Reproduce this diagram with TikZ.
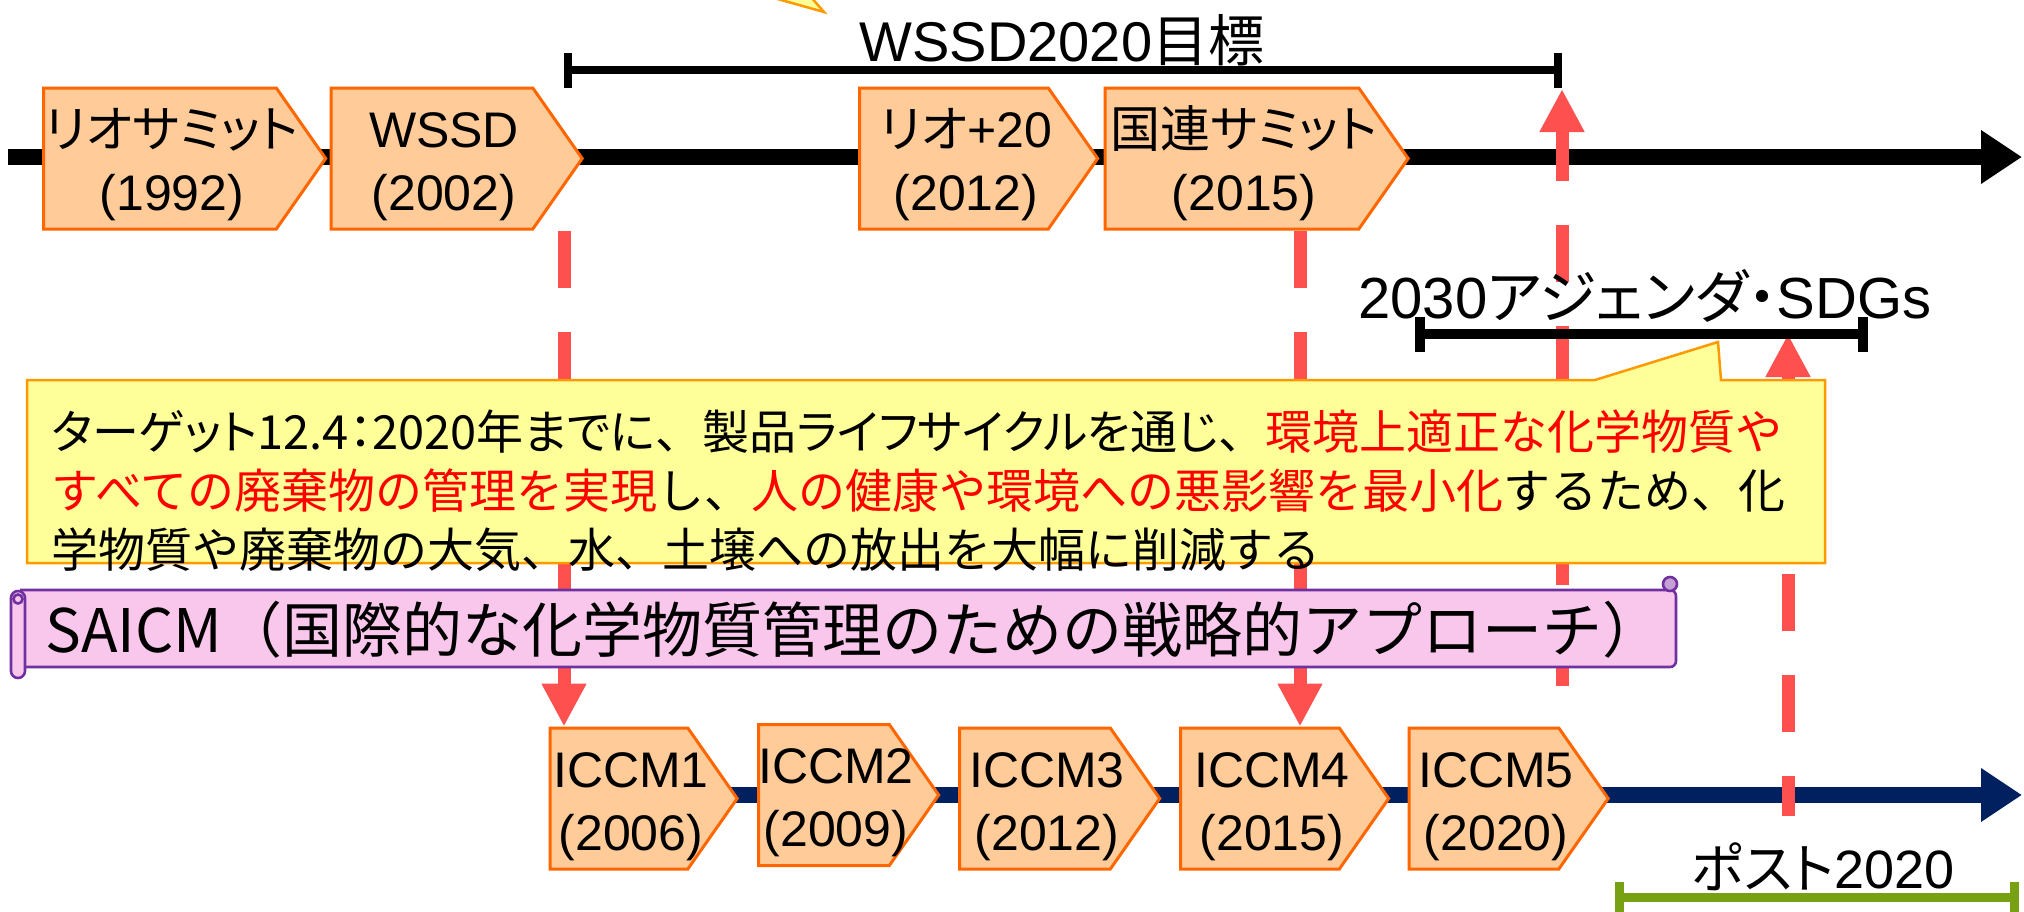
\documentclass[tikz,border=0pt]{standalone}
\usepackage{fontspec}
\setmainfont{Liberation Sans}
\newfontfamily\jp{Noto Sans CJK JP}
\newfontfamily\jpp[RawFeature=+palt]{Noto Sans CJK JP}
\usetikzlibrary{arrows.meta,shapes.symbols,calc}

\definecolor{boxfill}{RGB}{255,204,153}
\definecolor{boxline}{RGB}{255,102,0}
\definecolor{dashred}{RGB}{255,80,80}
\definecolor{navy}{RGB}{0,32,96}
\definecolor{notefill}{RGB}{255,255,153}
\definecolor{noteline}{RGB}{255,153,0}
\definecolor{scrollfill}{RGB}{249,198,236}
\definecolor{scrollline}{RGB}{112,48,160}
\definecolor{curlfill}{RGB}{196,160,214}
\definecolor{postgreen}{RGB}{119,160,18}
\definecolor{txtred}{RGB}{255,0,0}

\newcommand{\redtxt}[1]{\textcolor{txtred}{#1}}
% two lines, set on the centre of the box, a little to the right
\newcommand{\boxtext}[2]{%
  \makebox[0pt]{\hspace{12pt}\raisebox{5.75pt}[0pt][0pt]{#1}}%
  \makebox[0pt]{\hspace{12pt}\raisebox{-25.75pt}[0pt][0pt]{#2}}}

\begin{document}
\begin{tikzpicture}[x=0.5pt, y=-0.5pt,
    evt/.style={signal, signal to=east, signal pointer angle=110,
        draw=boxline, fill=boxfill, line width=1.5pt, inner sep=0pt,
        minimum height=70.5pt,
        font=\fontsize{25}{33}\selectfont},
    timeaxis/.style={line width=8pt, -{Triangle[length=20.5pt, width=25.5pt]}},
    spanbar/.style={line width=#1, {Bar[width=17.5pt]}-{Bar[width=17.5pt]}},
    redlink/.style={draw=dashred, line width=6.5pt,
        dash pattern=on 28.5pt off 22pt,
        -{Triangle[length=21.5pt, width=21pt]}},
    spantext/.style={inner sep=0pt, font=\fontsize{28}{34}\selectfont},
    notepen/.style={draw=noteline, fill=notefill, line width=1.25pt},
    scrollpen/.style={draw=scrollline, fill=scrollfill, line width=1.3pt}]

    \useasboundingbox (0,0) rectangle (2024,911);

    % pointer of a note above the picture
    \draw[notepen] (767,-4) -- (824,12) -- (810,-4);

    % Time axes
    \coordinate (topstart) at (8,157);
    \coordinate (topend) at (2022,157);
    \coordinate (botstart) at (700,795);
    \coordinate (botend) at (2022,795);
    \draw[timeaxis] (topstart) -- (topend);
    \draw[timeaxis, navy] (botstart) -- (botend);

    % Summits
    \node[evt, minimum width=141pt] (rio92) at (160,158.5) {\boxtext{\jpp リオサミット}{(1992)}};
    \node[evt, minimum width=125.5pt] (wssd) at (432,158.5) {\boxtext{WSSD}{(2002)}};
    \node[evt, minimum width=119pt] (rio20) at (954,158.5) {\boxtext{{\jpp リオ}+20}{(2012)}};
    \node[evt, minimum width=151.5pt] (kokuren) at (1232,158.5) {\boxtext{\jpp 国連サミット}{(2015)}};

    % ICCM sessions
    \node[evt, minimum width=93.5pt] (iccm1) at (619,798.5) {\boxtext{ICCM1}{(2006)}};
    \node[evt, minimum width=90pt] (iccm2) at (824,795) {\boxtext{ICCM2}{(2009)}};
    \node[evt, minimum width=100pt] (iccm3) at (1035,798.5) {\boxtext{ICCM3}{(2012)}};
    \node[evt, minimum width=104pt] (iccm4) at (1260,798.5) {\boxtext{ICCM4}{(2015)}};
    \node[evt, minimum width=99.5pt] (iccm5) at (1484,798.5) {\boxtext{ICCM5}{(2020)}};

    % Span ends
    \coordinate (wsdL) at (564,70);
    \coordinate (wsdR) at (1562,70);
    \coordinate (sdgL) at (1415,334);
    \coordinate (sdgR) at (1868,334);
    \coordinate (pstL) at (1615,897);
    \coordinate (pstR) at (2019,897);
    \coordinate (k15) at ($(kokuren.south)+(68,0)$);
    \coordinate (sdgfoot) at (1788,816);

    % Links between the two lines
    \draw[redlink] (wsdL |- wssd.south) -- (wsdL |- iccm1.north);
    \draw[redlink] (k15) -- (k15 |- iccm4.north);
    \draw[redlink, dash phase=30pt] (wsdR |- iccm5.north) -- ([yshift=-9.5pt]wsdR);
    \draw[redlink, dash phase=8.5pt] (sdgfoot) -- (sdgfoot |- sdgL);

    % Spans
    \draw[spanbar=4pt] (wsdL) -- (wsdR);
    \node[spantext] (wsdtext) at (1062,40) {WSSD2020{\jp 目標}};
    \draw[spanbar=5pt] (sdgL) -- (sdgR);
    \node[spantext, font=\fontsize{29}{34}\selectfont] (sdgtext) at (1645,296) {2030{\jpp アジェンダ・}SDGs};
    \draw[line width=4.5pt, postgreen, {Bar[width=15.5pt]}-{Bar[width=15.5pt]}] (pstL) -- (pstR);
    \node[spantext, font=\fontsize{27}{32}\selectfont] (psttext) at (1823,867) {{\jpp ポスト}2020};

    % Target 12.4 note
    \draw[notepen] (27,380) -- (1595,380) -- (1718,342) -- (1721,380) -- (1825,380)
        -- (1825,563) -- (27,563) -- cycle;
    \node[anchor=north west, inner sep=0pt, align=left,
        font=\jp\fontsize{23.5}{29.5}\selectfont] (target) at (51,409)
        {{\jpp ターゲット12.4：2020年までに}、{\jpp 製品ライフサイクルを通じ}、\redtxt{環境上適正な化学物質や}\\
         \redtxt{すべての廃棄物の管理を実現}し、\redtxt{人の健康や環境への悪影響を最小化}するため、化\\
         学物質や廃棄物の大気、水、土壌への放出を大幅に削減する};

    % SAICM scroll
    \draw[scrollpen, rounded corners=3pt] (20,590) -- (1676,590) -- (1676,667) -- (20,667);
    \draw[scrollpen, rounded corners=3.5pt] (11,591) rectangle (25,678);
    \draw[scrollpen] (18,599) circle (4.5);
    \draw[scrollpen, fill=curlfill] (1670,584) circle (7);
    \node[anchor=west, inner sep=0pt, font=\jp\fontsize{30}{36}\selectfont] (saicm) at (45,630)
        {SAICM（国際的な化学物質管理のための戦略的アプローチ）};
\end{tikzpicture}
\end{document}
